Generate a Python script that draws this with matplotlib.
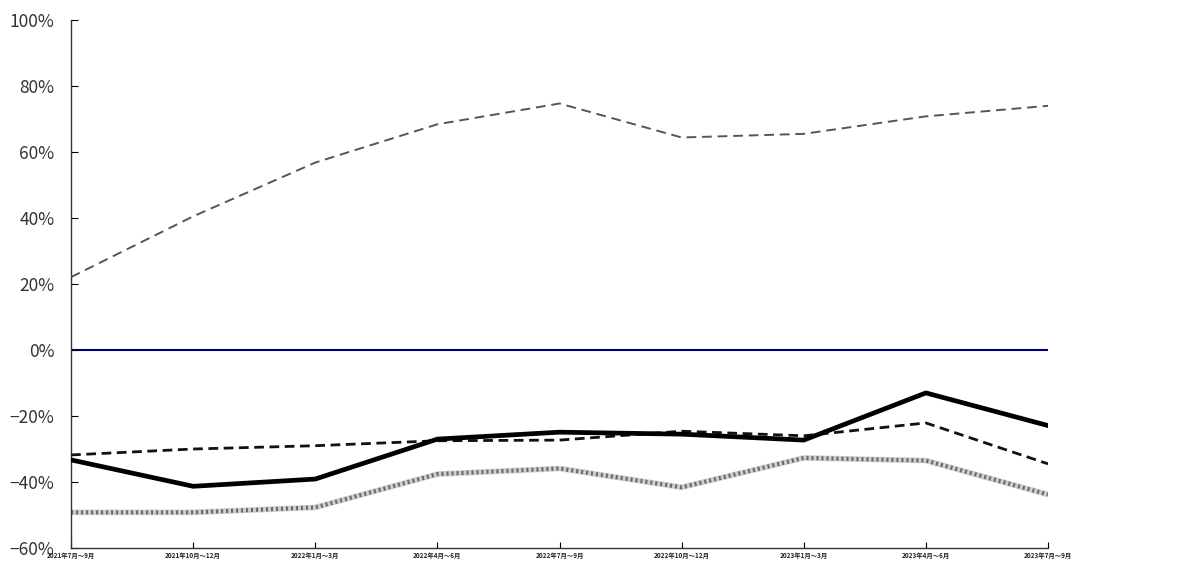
import matplotlib.pyplot as plt
import numpy as np

plt.rcParams['font.family'] = ['Noto Sans CJK JP', 'DejaVu Sans']

periods = ['2021年7月～9月', '2021年10月～12月', '2022年1月～3月', '2022年4月～6月',
           '2022年7月～9月', '2022年10月～12月', '2023年1月～3月', '2023年4月～6月',
           '2023年7月～9月']
top_dashed = [22.1, 40.5, 56.8, 68.4, 74.7, 64.4, 65.5, 70.8, 74.0]
solid_black = [-33.3, -41.3, -39.1, -27.0, -24.9, -25.5, -27.3, -13.0, -22.9]
dashed_black = [-31.8, -30.0, -29.0, -27.5, -27.3, -24.6, -26.0, -22.1, -34.5]
gray_line = [-49.2, -49.2, -47.7, -37.6, -35.9, -41.6, -32.7, -33.5, -43.8]
yticks = [-60, -40, -20, 0, 20, 40, 60, 80, 100]

x = np.arange(len(periods))

fig = plt.figure(figsize=(11.98, 5.62), dpi=100)
ax = fig.add_axes([0.0593, 0.0249, 0.8155, 0.9395])

ax.axhline(0, color='#000080', lw=1.5, zorder=1)
ax.plot(x, top_dashed, color='#555555', lw=1.4, dashes=(5, 3), zorder=3)
ax.plot(x, gray_line, color='#cfcfcf', lw=4.0, solid_capstyle='butt', zorder=2)
ax.plot(x, gray_line, color='#6a6a6a', lw=3.0, dashes=(0.5, 0.7), zorder=2)
ax.plot(x, dashed_black, color='#111111', lw=2.0, dashes=(3.5, 2), zorder=3)
ax.plot(x, solid_black, color='#000000', lw=3.4, zorder=4)

ax.set_xlim(0, len(periods) - 1)
ax.set_ylim(-60, 100)
ax.set_yticks(yticks)
ax.set_yticklabels([f'{v}%' if v >= 0 else f'\u2212{abs(v)}%' for v in yticks],
                   fontsize=12.5, color='#333333')
ax.set_xticks(x)
ax.set_xticklabels(periods, fontsize=4.6, fontweight='bold', color='#222222')
ax.tick_params(axis='y', direction='in', length=5, pad=12)
ax.tick_params(axis='x', direction='in', length=4, pad=3)

for side in ['top', 'right']:
    ax.spines[side].set_visible(False)
for side in ['left', 'bottom']:
    ax.spines[side].set_color('#333333')
    ax.spines[side].set_linewidth(1.0)

fig.savefig('out.png', dpi=100)
